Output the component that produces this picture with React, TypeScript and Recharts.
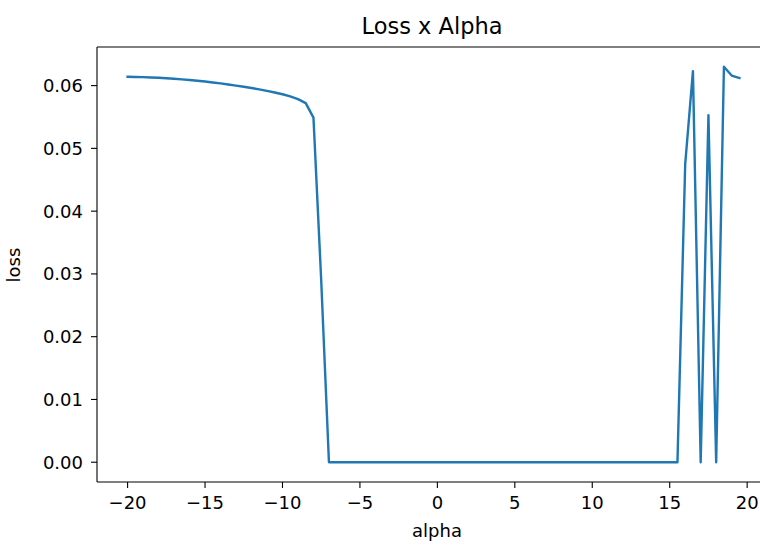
import { Line, LineChart, ReferenceLine, XAxis, YAxis } from "recharts";

const alphas = [
  -20, -19.5, -19, -18.5, -18, -17.5, -17, -16.5, -16, -15.5,
  -15, -14.5, -14, -13.5, -13, -12.5, -12, -11.5, -11, -10.5,
  -10, -9.5, -9, -8.5, -8, -7.5, -7, -6.5, -6, -5.5,
  -5, -4.5, -4, -3.5, -3, -2.5, -2, -1.5, -1, -0.5,
  0, 0.5, 1, 1.5, 2, 2.5, 3, 3.5, 4, 4.5,
  5, 5.5, 6, 6.5, 7, 7.5, 8, 8.5, 9, 9.5,
  10, 10.5, 11, 11.5, 12, 12.5, 13, 13.5, 14, 14.5,
  15, 15.5, 16, 16.5, 17, 17.5, 18, 18.5, 19, 19.5,
];

const losses = [
  0.0614, 0.06138, 0.06135, 0.0613, 0.06125, 0.06118, 0.0611, 0.061, 0.0609, 0.06078,
  0.06065, 0.0605, 0.06035, 0.06018, 0.06, 0.05982, 0.05962, 0.0594, 0.05916, 0.0589,
  0.05862, 0.05828, 0.05785, 0.0572, 0.0549, 0.029, 0, 0, 0, 0,
  0, 0, 0, 0, 0, 0, 0, 0, 0, 0,
  0, 0, 0, 0, 0, 0, 0, 0, 0, 0,
  0, 0, 0, 0, 0, 0, 0, 0, 0, 0,
  0, 0, 0, 0, 0, 0, 0, 0, 0, 0,
  0, 0, 0.0475, 0.0623, 0, 0.0553, 0, 0.063, 0.0616, 0.0612,
];

const xTicks = [-20, -15, -10, -5, 0, 5, 10, 15, 20];
const yTicks = [0, 0.01, 0.02, 0.03, 0.04, 0.05, 0.06];

const xDomain = [-21.975, 21.475];
const yDomain = [-0.00315, 0.06615];

const font = "'DejaVu Sans', sans-serif";
const ink = "#000";

const fmtX = (v: number) => String(v).replace("-", "\u2212");
const fmtY = (v: number) => v.toFixed(2);

export default function App() {
  const data = alphas.map((a, i) => ({ alpha: a, loss: losses[i] }));

  return (
    <div
      style={{
        position: "absolute",
        left: 0,
        top: 0,
        width: 760,
        height: 545,
        overflow: "hidden",
        background: "#fff",
        fontFamily: font,
      }}
    >
      <LineChart
        width={780}
        height={545}
        data={data}
        margin={{ top: 47, right: 10, bottom: 0, left: 0 }}
      >
        <XAxis
          dataKey="alpha"
          type="number"
          domain={xDomain}
          ticks={xTicks}
          tickFormatter={fmtX}
          height={63}
          tickSize={6}
          tickMargin={8}
          stroke={ink}
          strokeWidth={1.1}
          tick={{ fill: ink, fontSize: 18, fontFamily: font }}
        />
        <YAxis
          type="number"
          domain={yDomain}
          ticks={yTicks}
          tickFormatter={fmtY}
          width={97}
          tickSize={6}
          tickMargin={8}
          stroke={ink}
          strokeWidth={1.1}
          tick={{ fill: ink, fontSize: 18, fontFamily: font }}
        />
        <ReferenceLine y={yDomain[1]} stroke={ink} strokeWidth={1.1} ifOverflow="visible" />
        <ReferenceLine x={xDomain[1]} stroke={ink} strokeWidth={1.1} ifOverflow="visible" />
        <Line
          type="linear"
          dataKey="loss"
          stroke="#1f77b4"
          strokeWidth={2.4}
          strokeLinejoin="round"
          strokeLinecap="square"
          dot={false}
          activeDot={false}
          isAnimationActive={false}
        />
      </LineChart>
      <svg
        width={760}
        height={545}
        style={{ position: "absolute", left: 0, top: 0, pointerEvents: "none" }}
      >
        <text x={432} y={34} textAnchor="middle" fontSize={22.5} fontFamily={font} fill={ink}>
          Loss x Alpha
        </text>
        <text x={437} y={537} textAnchor="middle" fontSize={18} fontFamily={font} fill={ink}>
          alpha
        </text>
        <text
          x={0}
          y={0}
          transform="translate(20 265) rotate(-90)"
          textAnchor="middle"
          fontSize={18}
          fontFamily={font}
          fill={ink}
        >
          loss
        </text>
      </svg>
    </div>
  );
}
